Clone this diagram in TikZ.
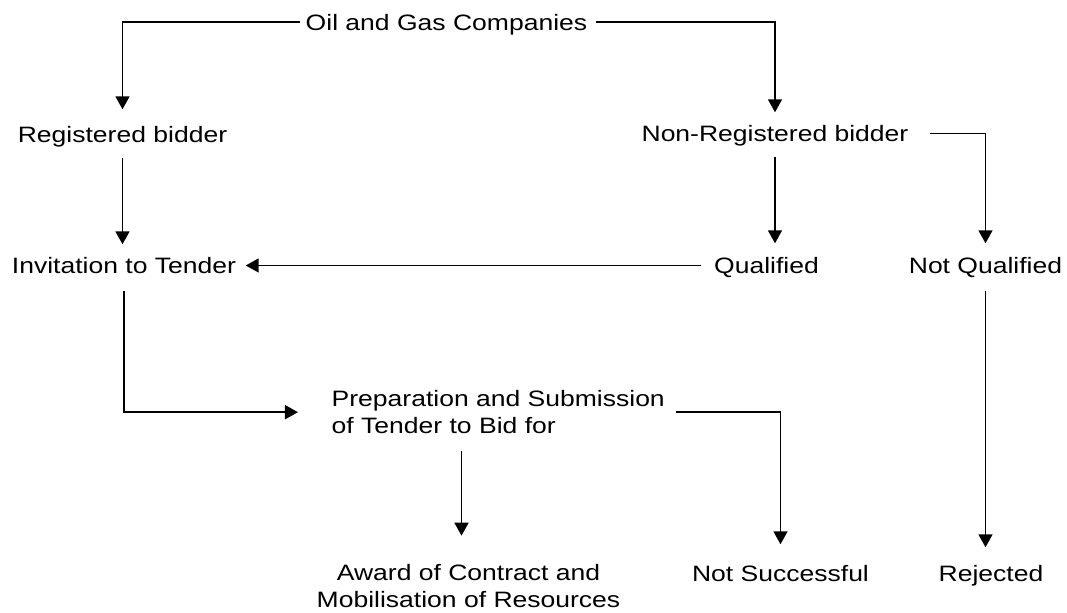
\documentclass[tikz,border=0pt]{standalone}
\usepackage{fontspec}
\setmainfont{Liberation Sans}[FakeStretch=1.19]
\usepackage{tikz}
\usetikzlibrary{arrows.meta}

\begin{document}
\begin{tikzpicture}[
        >={Triangle[width=0.14cm, length=0.13cm]},
        every node/.style={inner sep=0pt, font=\fontsize{6.34pt}{7.75pt}\selectfont},
        label/.style={anchor=base, text height=0.18cm, text depth=0.01cm},
        link/.style={->, line width=0.5pt}
    ]

        \useasboundingbox (0,0) rectangle (10.67,6.13);

        \node[label] (oil) at (4.465, 5.825) {Oil and Gas Companies};
        \node[label] (reg) at (1.225, 4.70) {Registered bidder};
        \node[label] (nonreg) at (7.75, 4.71) {Non-Registered bidder};
        \node[label] (inv) at (1.24, 3.39) {Invitation to Tender};
        \node[label] (qual) at (7.665, 3.39) {Qualified};
        \node[label] (notq) at (9.855, 3.39) {Not Qualified};
        \node[anchor=north west, align=left] (prep) at (3.31, 2.233) {Preparation and Submission\\of Tender to Bid for};
        \node[anchor=north, align=center] (award) at (4.685, 0.493) {Award of Contract and\\Mobilisation of Resources};
        \node[label] (notsucc) at (7.805, 0.31) {Not Successful};
        \node[label] (rej) at (9.91, 0.31) {Rejected};

        \draw[link, shorten <=0.05cm, shorten >=0.15cm] (oil.west) -| (reg.north);
        \draw[link, shorten <=0.08cm, shorten >=0.11cm] (oil.east) -| (nonreg.north);

        \draw[link, shorten <=0.13cm, shorten >=0.11cm] (reg.south) -- (reg.south |- inv.north);
        \draw[link, shorten <=0.13cm, shorten >=0.12cm] (nonreg.south) -- (nonreg.south |- qual.north);
        \draw[link, shorten <=0.21cm, shorten >=0.12cm] (nonreg.east) -| (notq.north);

        \draw[link, shorten <=0.12cm, shorten >=0.09cm] (qual.west) -- (inv.east);

        \draw[link, shorten <=0.15cm, shorten >=0.33cm] (inv.south) |- (prep.west);
        \draw[link, shorten <=0.10cm, shorten >=0.19cm] (prep.east) -| (notsucc.north);
        \draw[link, shorten <=0.16cm, shorten >=0.28cm] ([xshift=-0.07cm]award.north |- prep.south) -- ([xshift=-0.07cm]award.north);
        \draw[link, shorten <=0.15cm, shorten >=0.16cm] (notq.south) -- (notq.south |- rej.north);
    \end{tikzpicture}
\end{document}
